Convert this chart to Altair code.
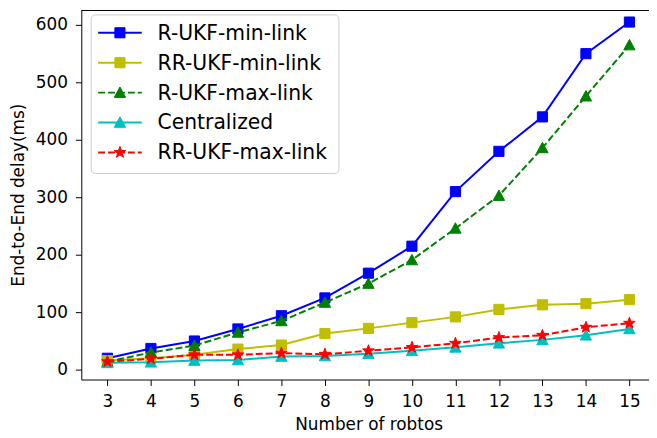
import math
import altair as alt
import pandas as pd

# ---- data ----
robots = list(range(3, 16))
r_ukf_min = [20, 37, 50, 71, 94, 125, 168, 215, 310, 380, 440, 550, 605]
rr_ukf_min = [16, 20, 26, 36, 43, 63, 72, 82, 92, 105, 113, 115, 122]
r_ukf_max = [14, 30, 42, 65, 85, 117, 150, 191, 246, 303, 386, 476, 565]
centralized = [12, 13, 16, 17, 23, 24, 28, 33, 39, 46, 52, 60, 71]
rr_ukf_max = [14, 19, 26, 26, 29, 27, 33, 39, 46, 56, 60, 74, 81]

series_names = ["R-UKF-min-link", "RR-UKF-min-link", "R-UKF-max-link",
                "Centralized", "RR-UKF-max-link"]
series_values = [r_ukf_min, rr_ukf_min, r_ukf_max, centralized, rr_ukf_max]
x_ticks = list(range(3, 16))
y_ticks = [0, 100, 200, 300, 400, 500, 600]

# ---- styles ----
def star_path(inner=0.40):
    pts = []
    for k in range(10):
        a = math.radians(-90 + 36 * k)
        r = 1.0 if k % 2 == 0 else inner
        pts.append(f"{r * math.cos(a):.3f},{r * math.sin(a):.3f}")
    return "M" + "L".join(pts) + "Z"

TRI = "M0,-1L1,0.85L-1,0.85Z"
styles = {
    "R-UKF-min-link": dict(color="#0000ff", dash=None, shape="square", size=105),
    "RR-UKF-min-link": dict(color="#bfbf00", dash=None, shape="square", size=105),
    "R-UKF-max-link": dict(color="#008000", dash=[7, 3], shape=TRI, size=130),
    "Centralized": dict(color="#00bfbf", dash=None, shape=TRI, size=130),
    "RR-UKF-max-link": dict(color="#ff0000", dash=[7, 3], shape=star_path(), size=150),
}

rows = []
for name, vals in zip(series_names, series_values):
    for n, v in zip(robots, vals):
        rows.append({"series": name, "n": n, "delay": v})
df = pd.DataFrame(rows)

FONT = "DejaVu Sans"
W, H = 573, 373

X = alt.X("n:Q", scale=alt.Scale(domain=[2.4, 15.45], nice=False, zero=False),
          axis=alt.Axis(values=x_ticks, format="d", title="Number of robtos",
                        titleX=290))
Y = alt.Y("delay:Q", scale=alt.Scale(domain=[-17, 626], nice=False, zero=False),
          axis=alt.Axis(values=y_ticks, format="d", title="End-to-End delay(ms)",
                        titlePadding=8))

layers = []
for name in series_names:
    st = styles[name]
    base = alt.Chart(df).transform_filter(alt.datum.series == name)
    line_kw = dict(color=st["color"], strokeWidth=2)
    if st["dash"]:
        line_kw["strokeDash"] = st["dash"]
    layers.append(base.mark_line(**line_kw).encode(x=X, y=Y))
    layers.append(base.mark_point(filled=True, shape=st["shape"], size=st["size"],
                                  color=st["color"], stroke=st["color"],
                                  strokeWidth=1, opacity=1).encode(x=X, y=Y))

one = alt.Data(values=[{}])
# top border of the axes
layers.append(alt.Chart(one).mark_rule(color="black", strokeWidth=1).encode(
    x=alt.value(0), x2=alt.value(W), y=alt.value(0.5)))

# legend (matplotlib style)
layers.append(alt.Chart(one).mark_rect(fill="white", fillOpacity=0.8, stroke="#cccccc",
                                       strokeWidth=1, cornerRadius=4).encode(
    x=alt.value(10), x2=alt.value(260), y=alt.value(5), y2=alt.value(165)))
for i, name in enumerate(series_names):
    st = styles[name]
    yy = 23 + 30.2 * i
    rule_kw = dict(color=st["color"], strokeWidth=2)
    if st["dash"]:
        rule_kw["strokeDash"] = st["dash"]
    layers.append(alt.Chart(one).mark_rule(**rule_kw).encode(
        x=alt.value(17), x2=alt.value(61), y=alt.value(yy)))
    layers.append(alt.Chart(one).mark_point(filled=True, shape=st["shape"], size=st["size"],
                                            color=st["color"], stroke=st["color"],
                                            strokeWidth=1, opacity=1).encode(
        x=alt.value(39), y=alt.value(yy)))
    layers.append(alt.Chart(one).mark_text(text=name, align="left", baseline="middle",
                                           font=FONT, fontSize=20.5, color="black").encode(
        x=alt.value(77), y=alt.value(yy + 1)))

chart = alt.layer(*layers).properties(
    width=W, height=H,
    autosize=alt.AutoSizeParams(type="none"),
    padding={"left": 74, "top": 0, "right": 0, "bottom": 56},
).configure_view(stroke=None).configure_axis(
    labelFont=FONT, titleFont=FONT, labelFontSize=17, titleFontSize=17,
    titleFontWeight="normal", labelColor="black", titleColor="black",
    domainColor="black", tickColor="black", domainWidth=1, tickWidth=1,
    grid=False, tickSize=6, labelPadding=8,
).configure_axisX(titlePadding=7)

chart.save("out.html", embed_options={"renderer": "svg", "actions": False})
